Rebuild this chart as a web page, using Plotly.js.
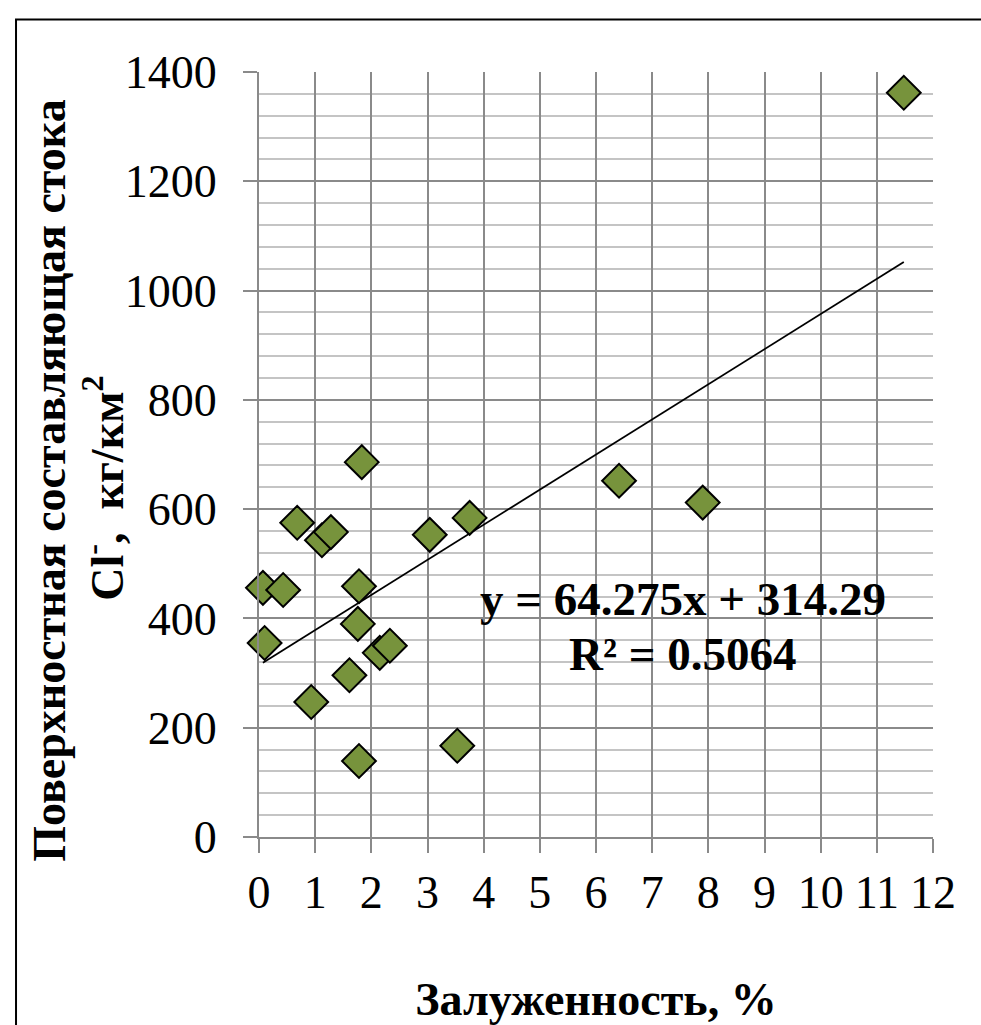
<!DOCTYPE html>
<html>
<head>
<meta charset="utf-8">
<script src="https://cdn.plot.ly/plotly-3.0.1.min.js"></script>
<style>html,body{margin:0;padding:0;background:#fff;}#chart{width:981px;height:1025px;}</style>
</head>
<body>
<div id="chart"></div>
<script>
// Data
const zaluzhennost = [0.07, 0.10, 0.43, 0.68, 1.12, 1.28, 1.83, 1.78, 1.76, 1.78, 1.61, 0.93, 2.15, 2.33, 3.04, 3.75, 3.53, 6.41, 7.90, 11.48];
const chlorideRunoff = [456, 355, 452, 575, 543, 558, 686, 459, 390, 139, 296, 247, 337, 350, 553, 584, 167, 652, 612, 1362];
const trendSlope = 64.275;
const trendIntercept = 314.29;
const rSquared = 0.5064;
const xTicks = [0,1,2,3,4,5,6,7,8,9,10,11,12];

const xMin = Math.min(...zaluzhennost), xMax = Math.max(...zaluzhennost);
const trendX = [xMin, xMax];
const trendY = trendX.map(v => trendSlope * v + trendIntercept);

const FONT = 'Liberation Serif, Times New Roman, serif';

const traces = [
  {
    x: trendX, y: trendY, type: 'scatter', mode: 'lines',
    line: {color: '#000', width: 1.8}, hoverinfo: 'skip', showlegend: false
  },
  {
    x: zaluzhennost, y: chlorideRunoff, type: 'scatter', mode: 'markers',
    cliponaxis: false,
    marker: {symbol: 'diamond', size: 26, color: '#77933C', line: {color: '#000', width: 2}},
    showlegend: false
  }
];

const layout = {
  width: 981, height: 1025,
  margin: {l: 259, r: 48, t: 72, b: 188},
  paper_bgcolor: '#fff', plot_bgcolor: '#fff',
  font: {family: FONT, color: '#000'},
  showlegend: false,
  xaxis: {
    range: [0, 12], tickvals: xTicks, ticktext: xTicks.map(String),
    showgrid: true, gridcolor: '#8a8a8a', gridwidth: 2,
    showline: true, linecolor: '#8a8a8a', linewidth: 2,
    ticks: 'outside', ticklen: 14, tickwidth: 2, tickcolor: '#8a8a8a',
    tickfont: {family: FONT, size: 46, color: '#000'},
    ticklabelstandoff: 0,
    zeroline: false,
    title: {text: '<b>Залуженность, %</b>', font: {family: FONT, size: 46, color: '#000'}, standoff: 70}
  },
  yaxis: {
    range: [0, 1400], dtick: 200, tick0: 0,
    showgrid: true, gridcolor: '#8a8a8a', gridwidth: 2,
    minor: {dtick: 40, showgrid: true, gridcolor: '#c4c4c4', gridwidth: 2, ticks: ''},
    showline: true, linecolor: '#8a8a8a', linewidth: 2,
    ticks: 'outside', ticklen: 14, tickwidth: 2, tickcolor: '#8a8a8a',
    tickfont: {family: FONT, size: 46, color: '#000'},
    ticklabelstandoff: 17,
    zeroline: false
  },
  annotations: [
    {xref: 'paper', yref: 'paper', x: -0.3101, y: 0.4657, xanchor: 'center', yanchor: 'middle',
     textangle: -90, showarrow: false,
     text: '<b>Поверхностная составляющая стока</b>', font: {family: FONT, size: 46, color: '#000'}},
    {xref: 'paper', yref: 'paper', x: -0.2315, y: 0.4565, xanchor: 'center', yanchor: 'middle',
     textangle: -90, showarrow: false,
     text: '<b>Cl<sup>-</sup>,  кг/км<sup>2</sup></b>', font: {family: FONT, size: 46, color: '#000'}},
    {xref: 'x', yref: 'y', x: 7.55, y: 435, xanchor: 'center', yanchor: 'middle', showarrow: false,
     text: '<b>y = ' + trendSlope + 'x + ' + trendIntercept + '</b>', font: {family: FONT, size: 47, color: '#000'}},
    {xref: 'x', yref: 'y', x: 7.55, y: 335, xanchor: 'center', yanchor: 'middle', showarrow: false,
     text: '<b>R² = ' + rSquared + '</b>', font: {family: FONT, size: 47, color: '#000'}}
  ],
  shapes: [
    {type: 'rect', xref: 'paper', yref: 'paper', x0: -0.3605, y0: -0.2655, x1: 1.0994, y1: 1.0687,
     line: {color: '#000', width: 2}, fillcolor: 'rgba(0,0,0,0)', layer: 'below'}
  ]
};

Plotly.newPlot('chart', traces, layout, {displayModeBar: false, staticPlot: true});
</script>
</body>
</html>
